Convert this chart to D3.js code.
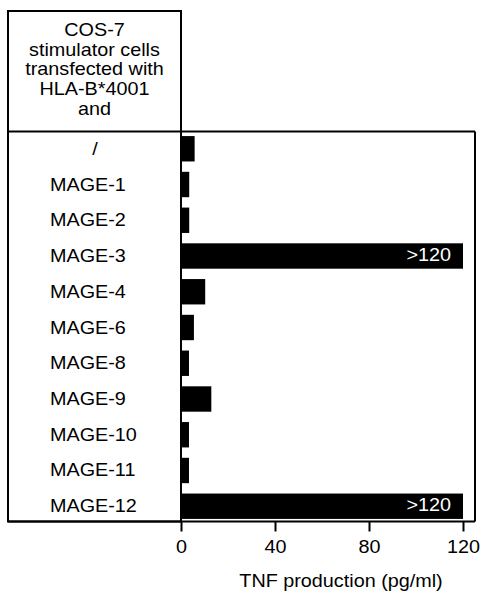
<!DOCTYPE html>
<html>
<head>
<meta charset="utf-8">
<script src="https://cdn.jsdelivr.net/npm/d3@7"></script>
<style>
  html, body { margin: 0; padding: 0; background: #fff; }
  svg { display: block; }
  text { font-family: "Liberation Sans", Arial, Helvetica, sans-serif; fill: #000; }
</style>
</head>
<body>
<svg id="chart" width="480" height="594"></svg>
<script>
// Stimulator constructs and TNF released by the CTL clone (pg/ml)
const constructs = ["/", "MAGE-1", "MAGE-2", "MAGE-3", "MAGE-4", "MAGE-6",
                    "MAGE-8", "MAGE-9", "MAGE-10", "MAGE-11", "MAGE-12"];
const tnfValues = [5.8, 3.5, 3.5, 120, 10.3, 5.5, 3.4, 12.9, 3.4, 3.4, 120];
// Bars that went off the top of the assay range carry a text label
const barLabels = ["", "", "", ">120", "", "", "", "", "", "", ">120"];
const xTicks = [0, 40, 80, 120];
const headerLines = ["COS-7", "stimulator cells", "transfected with", "HLA-B*4001", "and"];
const xTitle = "TNF production (pg/ml)";

const svg = d3.select("#chart");
const FS = 18;            // font size
const SX = 1.1;           // horizontal stretch of the lettering

const boxLeft = 8, boxTop = 11, axisX = 181, frameTop = 131.5, frameRight = 475, frameBottom = 521.5;

const x = d3.scaleLinear().domain([0, 120]).range([axisX, 463]);
const y = d3.scaleBand().domain(constructs).range([frameTop + 1, frameBottom + 1])
  .paddingInner(0.29).paddingOuter(0.1);

function label(g, txt, px, py, anchor, size, color) {
  return g.append("text")
    .attr("transform", `translate(${px},${py}) scale(${SX},1)`)
    .attr("text-anchor", anchor)
    .style("font-size", (size || FS) + "px")
    .style("fill", color || "#000")
    .text(txt);
}

// bars
svg.append("g").selectAll("rect")
  .data(tnfValues)
  .join("rect")
  .attr("x", x(0))
  .attr("y", (d, i) => y(constructs[i]))
  .attr("width", d => x(d) - x(0))
  .attr("height", y.bandwidth())
  .attr("fill", "#000");

// value labels inside the saturated bars
const vl = svg.append("g");
barLabels.forEach((t, i) => {
  if (!t) return;
  label(vl, t, x(tnfValues[i]) - 12, y(constructs[i]) + y.bandwidth() / 2 + 4.5, "end", FS, "#fff");
});

// frames
const frame = svg.append("g").attr("fill", "none").attr("stroke", "#000").attr("stroke-width", 2);
frame.append("rect").attr("x", boxLeft).attr("y", boxTop)
  .attr("width", axisX - boxLeft).attr("height", frameBottom - boxTop);
frame.append("line").attr("x1", boxLeft).attr("x2", frameRight).attr("y1", frameTop).attr("y2", frameTop);
frame.append("line").attr("x1", frameRight).attr("x2", frameRight).attr("y1", frameTop).attr("y2", frameBottom);
frame.append("line").attr("x1", boxLeft).attr("x2", frameRight).attr("y1", frameBottom).attr("y2", frameBottom);

// header text in the upper left box
const hdr = svg.append("g");
const headerBase = [36, 55.5, 75, 95, 114.5];
headerLines.forEach((t, i) => label(hdr, t, (boxLeft + axisX) / 2, headerBase[i], "middle"));

// category labels
const cat = svg.append("g");
constructs.forEach(c => {
  const cy = y(c) + y.bandwidth() / 2 + 6;
  if (c === "/") label(cat, c, 95, cy, "middle");
  else label(cat, c, 50, cy, "start");
});

// x axis
const xAxis = d3.axisBottom(x).tickValues(xTicks).tickSize(10).tickPadding(4).tickFormat(d3.format("d"));
const ax = svg.append("g").attr("transform", `translate(0,${frameBottom})`).call(xAxis);
ax.select(".domain").remove();
ax.selectAll(".tick line").attr("stroke", "#000").attr("stroke-width", 2);
ax.selectAll(".tick text").remove();
ax.selectAll(".tick").each(function (d) {
  label(d3.select(this), d3.format("d")(d), 0, 553 - frameBottom, "middle");
});

// axis title
label(svg.append("g"), xTitle, 341, 587, "middle");
</script>
</body>
</html>
